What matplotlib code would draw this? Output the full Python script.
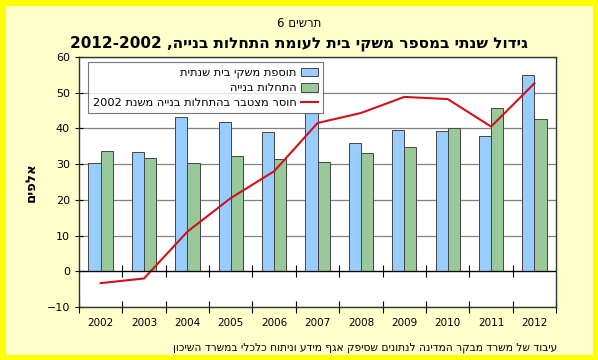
import re
import numpy as np
import matplotlib
matplotlib.use('Agg')
import matplotlib.pyplot as plt
from matplotlib.patches import Rectangle

plt.rcParams['font.family'] = ['DejaVu Sans']

years = ['2002', '2003', '2004', '2005', '2006', '2007', '2008', '2009', '2010', '2011', '2012']
households = [30.2, 33.4, 43.1, 41.8, 39.1, 44.3, 35.9, 39.5, 39.4, 37.8, 54.8]
starts = [33.6, 31.8, 30.4, 32.4, 31.3, 30.6, 33.0, 34.8, 40.0, 45.7, 42.6]
shortage = [-3.3, -2.0, 11.1, 20.5, 28.0, 41.5, 44.3, 48.8, 48.2, 40.5, 52.6]

title_small = 'תרשים 6'
title = 'גידול שנתי במספר משקי בית לעומת התחלות בנייה, 2002-2012'
ylabel = 'אלפים'
lbl_hh = 'תוספת משקי בית שנתית'
lbl_st = 'התחלות בנייה'
lbl_sh = 'חוסר מצטבר בהתחלות בנייה משנת 2002'
source = 'עיבוד של משרד מבקר המדינה לנתונים שסיפק אגף מידע וניתוח כלכלי במשרד השיכון'


def rtl(s):
    # crude visual reordering: reverse all, then put digit runs back in order
    r = s[::-1]
    return re.sub(r'[0-9]+', lambda m: m.group(0)[::-1], r)


fig = plt.figure(figsize=(5.98, 3.6), dpi=100)
fig.patch.set_facecolor('#FFFFCC')
fig.patches.append(Rectangle((0, 0), 1, 1, transform=fig.transFigure, fill=False,
                             edgecolor='#FFFF00', linewidth=8, zorder=10))

ax = fig.add_axes([0.132, 0.147, 0.798, 0.695])
x = np.arange(len(years))
w = 0.28
b1 = ax.bar(x - w / 2, households, w, color='#99CCFF', edgecolor='#444444', linewidth=0.7,
            label=rtl(lbl_hh), zorder=3)
b2 = ax.bar(x + w / 2, starts, w, color='#99C999', edgecolor='#444444', linewidth=0.7,
            label=rtl(lbl_st), zorder=3)
ln, = ax.plot(x, shortage, color='#D0101A', linewidth=1.5, label=rtl(lbl_sh), zorder=4)

ax.set_xlim(-0.5, len(years) - 0.5)
ax.set_ylim(-10, 60)
ax.set_yticks(np.arange(-10, 61, 10))
ax.yaxis.grid(True, color='#808080', linewidth=0.9, zorder=0)
ax.set_axisbelow(True)
ax.axhline(0, color='black', linewidth=0.9, zorder=5)

# category boundary ticks at bottom and at zero line
bounds = np.arange(len(years) + 1) - 0.5
ax.set_xticks(bounds)
ax.set_xticklabels([])
ax.set_xticks(x, minor=True)
ax.set_xticklabels(years, minor=True, fontsize=7.5)
ax.tick_params(axis='x', which='major', direction='inout', length=8, width=0.8)
ax.tick_params(axis='x', which='minor', length=0, pad=8)
ax.tick_params(axis='y', direction='inout', length=6, width=0.8, labelsize=8)
ax.plot(bounds[1:-1], np.zeros(len(bounds) - 2), linestyle='none', marker='|',
        markersize=8, color='black', markeredgewidth=0.8, zorder=5)
for s in ax.spines.values():
    s.set_color('#333333')
    s.set_linewidth(1.0)

ax.set_ylabel(rtl(ylabel), fontsize=9.5, fontweight='bold', labelpad=6)

leg = ax.legend([b1, b2, ln], [rtl(lbl_hh), rtl(lbl_st), rtl(lbl_sh)],
                loc='upper left', bbox_to_anchor=(0.018, 0.978), markerfirst=False,
                fontsize=8.2, frameon=True, fancybox=False, borderaxespad=0,
                handlelength=1.5, handleheight=0.8, labelspacing=0.4,
                borderpad=0.45, handletextpad=0.4)
leg.get_frame().set_edgecolor('#555555')
leg.get_frame().set_linewidth(0.8)
for t in leg.get_texts():
    t.set_ha('right')

fig.text(0.5, 0.935, rtl(title_small), ha='center', va='center', fontsize=8.5)
fig.text(0.5, 0.88, rtl(title), ha='center', va='center', fontsize=11, fontweight='bold')
fig.text(0.932, 0.035, rtl(source), ha='right', va='center', fontsize=7.7)

fig.savefig('out.png', dpi=100, facecolor=fig.get_facecolor())
